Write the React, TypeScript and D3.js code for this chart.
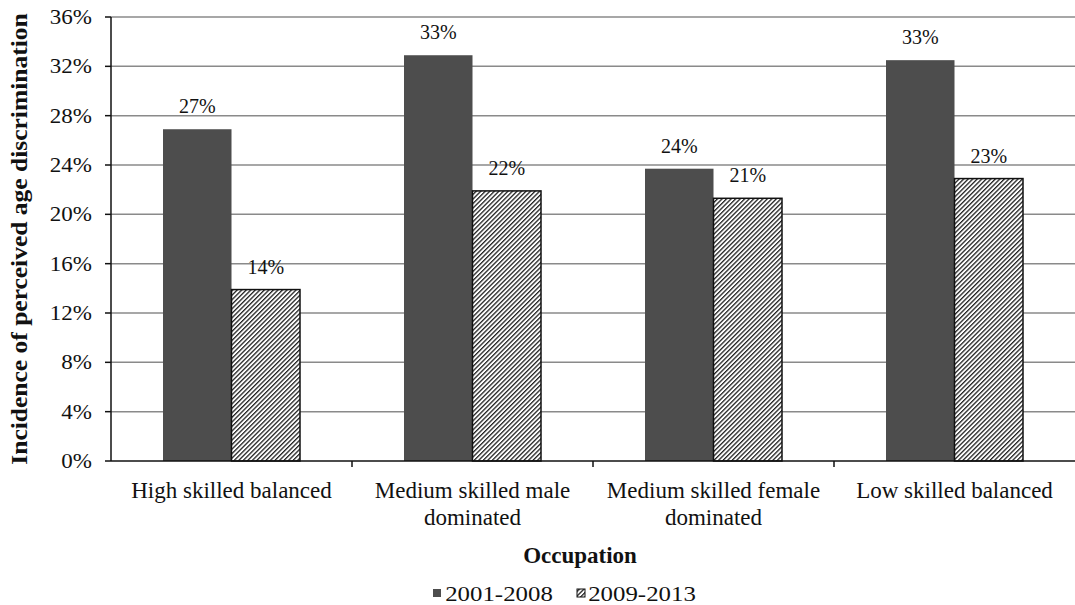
import { useEffect, useRef } from "react"
import * as d3 from "d3"

const categories = [
  ["High skilled balanced"],
  ["Medium skilled male", "dominated"],
  ["Medium skilled female", "dominated"],
  ["Low skilled balanced"],
]
const series = ["2001-2008", "2009-2013"]
const values2001 = [26.9, 32.9, 23.7, 32.5]
const values2009 = [13.9, 21.9, 21.3, 22.9]
const labels2001 = ["27%", "33%", "24%", "33%"]
const labels2009 = ["14%", "22%", "21%", "23%"]
const yTicks = [0, 4, 8, 12, 16, 20, 24, 28, 32, 36]

const FONT = "'Liberation Serif', 'Times New Roman', serif"

export default function App() {
  const svgRef = useRef<SVGSVGElement>(null)

  useEffect(() => {
    if (!svgRef.current) return
    d3.select(svgRef.current).selectAll("*").remove()

    const width = 1075
    const height = 605
    const margin = { top: 17, right: 0, bottom: 144, left: 111 }
    const chartWidth = width - margin.left - margin.right
    const chartHeight = height - margin.top - margin.bottom

    const svg = d3.select(svgRef.current).attr("width", width).attr("height", height)

    const defs = svg.append("defs")
    const pat = defs
      .append("pattern")
      .attr("id", "hatch")
      .attr("patternUnits", "userSpaceOnUse")
      .attr("width", 3.2)
      .attr("height", 3.2)
      .attr("patternTransform", "rotate(45)")
    pat.append("rect").attr("width", 3.2).attr("height", 3.2).attr("fill", "#fff")
    pat.append("rect").attr("width", 1.3).attr("height", 3.2).attr("fill", "#222")

    const g = svg.append("g").attr("transform", `translate(${margin.left},${margin.top})`)

    const keys = categories.map((c) => c.join(" "))
    const x = d3.scaleBand().domain(keys).range([0, chartWidth]).paddingInner(0).paddingOuter(0)
    const x1 = d3.scaleBand().domain(series).range([52, x.bandwidth() - 52])
    const y = d3.scaleLinear().domain([0, 36]).range([chartHeight, 0])

    // text helper: size in px, sx = horizontal stretch seen in the reference
    const txt = (sel: d3.Selection<any, any, any, any>, tx: number, ty: number, s: string, size: number, sx = 1) =>
      sel
        .append("text")
        .attr("transform", `translate(${tx},${ty}) scale(${sx},1)`)
        .attr("text-anchor", "middle")
        .style("font-family", FONT)
        .style("font-size", `${size}px`)
        .style("fill", "#111")
        .text(s)

    // gridlines
    g.selectAll(".grid")
      .data(yTicks.slice(1))
      .enter()
      .append("line")
      .attr("x1", 0)
      .attr("x2", chartWidth)
      .attr("y1", (d) => y(d))
      .attr("y2", (d) => y(d))
      .attr("stroke", "#8a8a8a")
      .attr("stroke-width", 1.5)

    // bars
    const data = keys.map((k, i) => ({ k, i }))
    g.selectAll(".bar1")
      .data(data)
      .enter()
      .append("rect")
      .attr("x", (d) => (x(d.k) || 0) + (x1(series[0]) || 0))
      .attr("width", x1.bandwidth())
      .attr("y", (d) => y(values2001[d.i]))
      .attr("height", (d) => chartHeight - y(values2001[d.i]))
      .attr("fill", "#4d4d4d")

    g.selectAll(".bar2")
      .data(data)
      .enter()
      .append("rect")
      .attr("x", (d) => (x(d.k) || 0) + (x1(series[1]) || 0))
      .attr("width", x1.bandwidth())
      .attr("y", (d) => y(values2009[d.i]))
      .attr("height", (d) => chartHeight - y(values2009[d.i]))
      .attr("fill", "url(#hatch)")
      .attr("stroke", "#111")
      .attr("stroke-width", 1.5)

    // value labels
    data.forEach((d) => {
      const bx = x(d.k) || 0
      txt(g, bx + (x1(series[0]) || 0) + x1.bandwidth() / 2, y(values2001[d.i]) - 16, labels2001[d.i], 20)
      txt(g, bx + (x1(series[1]) || 0) + x1.bandwidth() / 2, y(values2009[d.i]) - 16, labels2009[d.i], 20)
    })

    // y axis
    g.append("line").attr("x1", 0).attr("x2", 0).attr("y1", 0).attr("y2", chartHeight).attr("stroke", "#111").attr("stroke-width", 1.5)
    yTicks.forEach((t) => {
      g.append("line").attr("x1", -6).attr("x2", 0).attr("y1", y(t)).attr("y2", y(t)).attr("stroke", "#111").attr("stroke-width", 1.5)
      txt(g, -19, y(t) + 7, `${t}%`, 20, 1.15).attr("text-anchor", "end")
    })

    // x axis
    g.append("line").attr("x1", 0).attr("x2", chartWidth).attr("y1", chartHeight).attr("y2", chartHeight).attr("stroke", "#111").attr("stroke-width", 1.5)
    keys.forEach((k, i) => {
      const bx = x(k) || 0
      if (i > 0)
        g.append("line").attr("x1", bx).attr("x2", bx).attr("y1", chartHeight).attr("y2", chartHeight + 6).attr("stroke", "#111").attr("stroke-width", 1.5)
      categories[i].forEach((line, j) => {
        txt(g, bx + x.bandwidth() / 2, chartHeight + 37 + j * 27, line, 23)
      })
    })

    // axis titles
    txt(svg, 580, 563, "Occupation", 23).style("font-weight", "bold")
    svg
      .append("text")
      .attr("transform", `translate(27,${margin.top + chartHeight / 2}) rotate(-90) scale(1,0.92)`)
      .attr("text-anchor", "middle")
      .style("font-family", FONT)
      .style("font-size", "25.5px")
      .style("font-weight", "bold")
      .style("fill", "#111")
      .text("Incidence of perceived age discrimination")

    // legend
    svg.append("rect").attr("x", 433).attr("y", 589).attr("width", 8).attr("height", 8).attr("fill", "#4d4d4d")
    txt(svg, 499, 601, series[0], 22, 1.13)
    svg.append("rect").attr("x", 577).attr("y", 589).attr("width", 8).attr("height", 8).attr("fill", "url(#hatch)").attr("stroke", "#111").attr("stroke-width", 1)
    txt(svg, 642, 601, series[1], 22, 1.13)
  }, [])

  return <svg ref={svgRef} style={{ position: "absolute", left: 0, top: 0, background: "#fff" }}></svg>
}
